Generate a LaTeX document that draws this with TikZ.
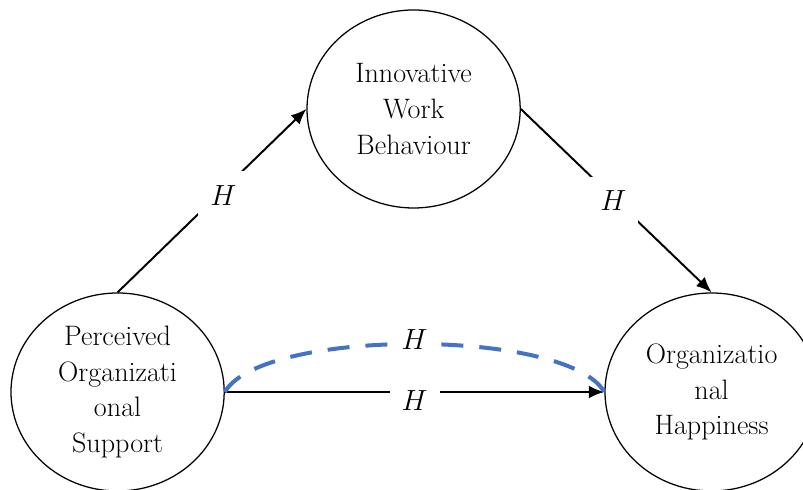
\documentclass[tikz,border=0pt]{standalone}
\usepackage{fontspec}
\usetikzlibrary{positioning,shapes.geometric,arrows.meta}
\definecolor{arcblue}{HTML}{4472C4}
\begin{document}
\begin{tikzpicture}
        [main/.style ={draw,ellipse,line width=0.9pt,minimum width=5.33cm,minimum height=4.95cm,inner sep=0pt,align=center},
         lab/.style ={fill=white,minimum width=1.25cm,minimum height=1.2cm,inner sep=0pt},
         font=\fontsize{20}{25.4}\selectfont, node distance=14.85cm,
         >={Latex[length=11pt,width=9pt]}]
        \useasboundingbox (-2.94,-2.45) rectangle (17.135,9.8);
        \node[main] (pos){Perceived\\Organizati\\onal\\Support};
        \node[main] (oh)[right of = pos]{Organizatio\\nal\\Happiness};
        \node[main] (iwb)[on grid, above right = 7.075cm and 7.4cm of pos]{Innovative\\Work\\Behaviour};
        \draw[->,line width=1.4pt] (pos.north) to node[lab,pos=0.53,xshift=4pt]{$H$} (iwb.west);
        \draw[->,line width=1.4pt] (iwb.east) to node[lab,pos=0.5,xshift=-2pt]{$H$} (oh.north);
        \draw[->,line width=1.4pt] (pos.east) to node[lab,yshift=-6pt]{$H$} (oh.west);
        \draw[arcblue,line width=2.85pt,dash pattern=on 0.55cm off 0.4cm] (pos.east) to [bend left=60,looseness=0.5] node[lab,yshift=3pt,text=black]{$H$} (oh.west);
    \end{tikzpicture}
\end{document}
